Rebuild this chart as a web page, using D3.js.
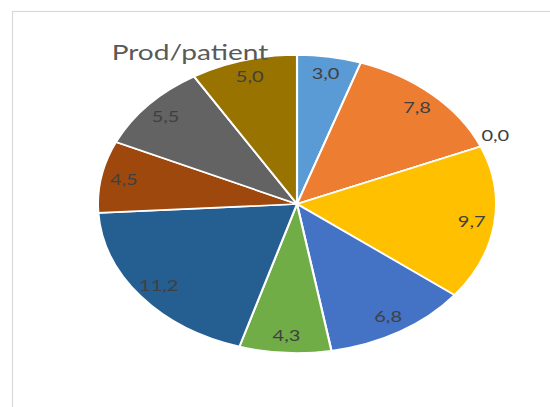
<!DOCTYPE html>
<html>
<head>
<meta charset="utf-8">
<script src="https://cdn.jsdelivr.net/npm/d3@7"></script>
<style>
  html, body { margin: 0; padding: 0; background: #fff; }
  svg { display: block; }
</style>
</head>
<body>
<script>
// Production per patient, one slice per unit
const values = [3.0, 7.8, 0.0, 9.7, 6.8, 4.3, 11.2, 4.5, 5.5, 5.0];
const colors = ["#5B9BD5", "#ED7D31", "#A5A5A5", "#FFC000", "#4472C4",
                "#70AD47", "#255E91", "#9E480E", "#636363", "#997300"];
const title = "Prod/patient";

const W = 550, H = 407;
const cx = 297, cy = 204;      // pie centre
const r = 149;                 // radius before horizontal stretch
const stretch = 1.336;         // chart is drawn wider than tall

const fmt = v => d3.format(".1f")(v).replace(".", ",");

const svg = d3.select("body").append("svg")
  .attr("width", W).attr("height", H);

// chart area frame
svg.append("rect")
  .attr("x", 12.5).attr("y", 11.5)
  .attr("width", 560).attr("height", 420)
  .attr("fill", "#fff")
  .attr("stroke", "#d9d9d9")
  .attr("stroke-width", 1.2);

const g = svg.append("g")
  .attr("transform", `translate(${cx},${cy}) scale(${stretch},1)`);

const pie = d3.pie().sort(null).value(d => d);
const arcs = pie(values);

const arc = d3.arc().innerRadius(0).outerRadius(r);
const labelArc = d3.arc().innerRadius(r * 0.885).outerRadius(r * 0.885);
const outsideArc = d3.arc().innerRadius(r * 1.08).outerRadius(r * 1.08);

g.selectAll("path.slice")
  .data(arcs)
  .join("path")
  .attr("class", "slice")
  .attr("d", arc)
  .attr("fill", (d, i) => colors[i])
  .attr("stroke", "#fff")
  .attr("stroke-width", 1.6)
  .attr("stroke-linejoin", "round");

g.selectAll("text.val")
  .data(arcs)
  .join("text")
  .attr("class", "val")
  .attr("transform", d => {
    const c = (d.value > 0 ? labelArc : outsideArc).centroid(d);
    return `translate(${c[0]},${c[1] - (d.value > 0 ? 0 : 6)})`;
  })
  .attr("text-anchor", "middle")
  .attr("dominant-baseline", "central")
  .attr("font-family", "Lato, 'Open Sans', sans-serif")
  .attr("font-size", 15)
  .attr("fill", "#404040")
  .text(d => fmt(d.value));

// chart title
svg.append("g")
  .attr("transform", `translate(190,60) scale(${stretch},1)`)
  .append("text")
  .attr("text-anchor", "middle")
  .attr("font-family", "Lato, 'Open Sans', sans-serif")
  .attr("font-size", 21)
  .attr("fill", "#595959")
  .text(title);
</script>
</body>
</html>
